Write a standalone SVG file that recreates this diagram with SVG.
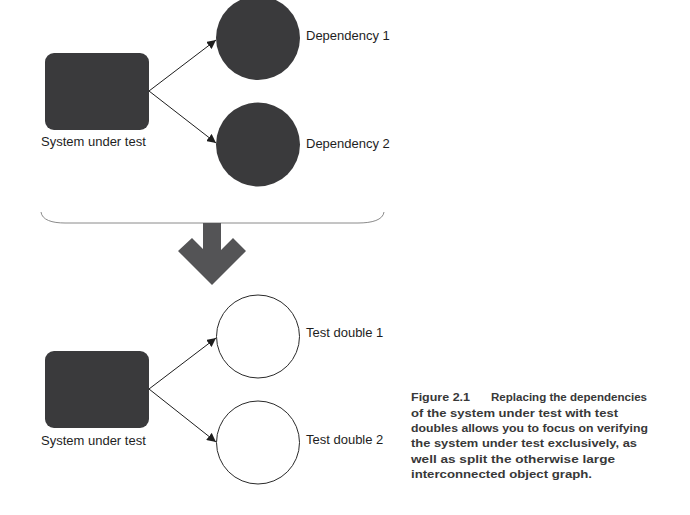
<svg xmlns="http://www.w3.org/2000/svg" width="690" height="515" viewBox="0 0 690 515">
<defs>
<style>
.dark{fill:#3a3a3c}
.open{fill:#ffffff;stroke:#2a2a2a;stroke-width:1}
.lbl{font-family:"Liberation Sans",Arial,sans-serif;font-size:13px;fill:#1e1e1e}
.edge{stroke:#1e1e1e;stroke-width:1;fill:none;marker-end:url(#ah)}
.cap{font-family:"Liberation Sans",Arial,sans-serif;font-size:11.8px;font-weight:bold;fill:#383838}
</style>
<marker id="ah" viewBox="0 0 10 10" refX="10" refY="5" markerWidth="9" markerHeight="9" markerUnits="userSpaceOnUse" orient="auto">
<path d="M0,0 L10,5 L0,10 Z" fill="#1e1e1e"/>
</marker>
</defs>
<rect width="690" height="515" fill="#ffffff"/>

<g id="connectors">
<line class="edge" x1="149" y1="91" x2="216" y2="40"/>
<line class="edge" x1="149" y1="91" x2="216" y2="143"/>
<line class="edge" x1="149" y1="389" x2="216" y2="338"/>
<line class="edge" x1="149" y1="389" x2="216" y2="442"/>
</g>

<g id="sut1">
<rect class="dark" x="45" y="53" width="104" height="77" rx="9"/>
<text class="lbl" x="41" y="146">System under test</text>
</g>
<g id="dep1">
<circle class="dark" cx="258" cy="38" r="42"/>
<text class="lbl" x="306" y="40">Dependency 1</text>
</g>
<g id="dep2">
<circle class="dark" cx="258" cy="144.5" r="42"/>
<text class="lbl" x="306" y="148">Dependency 2</text>
</g>

<g id="brace">
<path d="M41,212 C42,220 52,223 65,223 L358,223 C372,223 383,220 384,212" fill="none" stroke="#8a8a8a" stroke-width="1"/>
</g>
<g id="bigarrow">
<polygon points="203,223 221,223 221,250 233,238 246,251 212,285 178,251 192,238 203,249" fill="#545456"/>
</g>

<g id="sut2">
<rect class="dark" x="45" y="351" width="104" height="77" rx="9"/>
<text class="lbl" x="41" y="445">System under test</text>
</g>
<g id="td1">
<circle class="open" cx="258" cy="336.5" r="41.5"/>
<text class="lbl" x="306" y="337">Test double 1</text>
</g>
<g id="td2">
<circle class="open" cx="258" cy="442.5" r="41.5"/>
<text class="lbl" x="306" y="444">Test double 2</text>
</g>

<g id="caption">
<text class="cap" x="411" y="401" textLength="59" lengthAdjust="spacingAndGlyphs">Figure 2.1</text>
<text class="cap" x="491" y="401" textLength="156" lengthAdjust="spacingAndGlyphs">Replacing the dependencies</text>
<text class="cap" x="411" y="416.5" textLength="207" lengthAdjust="spacingAndGlyphs">of the system under test with test</text>
<text class="cap" x="411" y="432" textLength="237" lengthAdjust="spacingAndGlyphs">doubles allows you to focus on verifying</text>
<text class="cap" x="411" y="447" textLength="226" lengthAdjust="spacingAndGlyphs">the system under test exclusively, as</text>
<text class="cap" x="411" y="462.5" textLength="204" lengthAdjust="spacingAndGlyphs">well as split the otherwise large</text>
<text class="cap" x="411" y="478" textLength="181" lengthAdjust="spacingAndGlyphs">interconnected object graph.</text>
</g>
</svg>
